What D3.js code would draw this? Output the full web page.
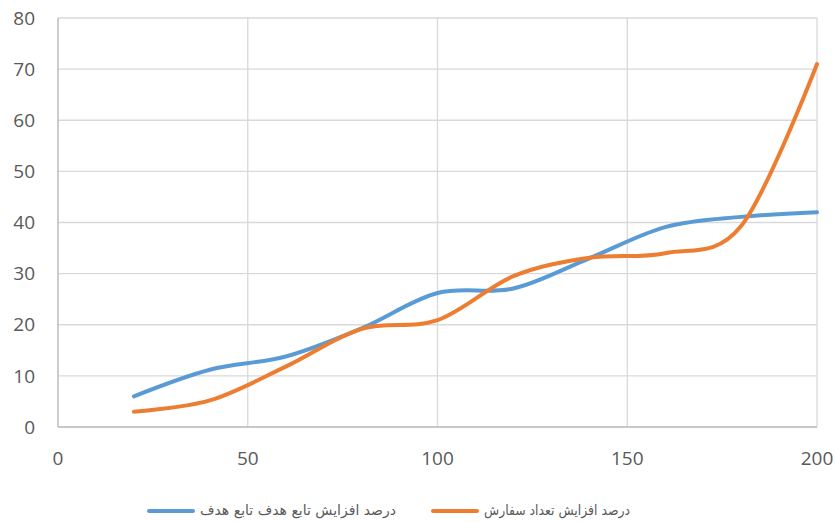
<!DOCTYPE html>
<html>
<head>
<meta charset="utf-8">
<script src="https://cdn.jsdelivr.net/npm/d3@7"></script>
<style>
  html, body { margin: 0; padding: 0; background: #fff; }
  svg { display: block; }
</style>
</head>
<body>
<svg id="chart" width="835" height="522"></svg>
<script>
// Order size steps (x) and the two percentage-increase series
const xValues = [20, 40, 60, 80, 100, 120, 140, 160, 180, 200];
const objectiveIncrease = [6, 11.2, 13.8, 19.3, 26.2, 27.1, 33, 39.1, 41.1, 42];
const orderCountIncrease = [3, 5.2, 11.8, 19.2, 20.9, 29.5, 33.1, 34, 39.3, 71];
const xTicks = [0, 50, 100, 150, 200];
const yTicks = [0, 10, 20, 30, 40, 50, 60, 70, 80];
const seriesNames = ["درصد افزایش تابع هدف تابع هدف", "درصد افزایش تعداد سفارش"];

const svg = d3.select("#chart");
const m = { left: 58, right: 18, top: 18, bottom: 95 };
const W = 835, H = 522;

const x = d3.scaleLinear().domain([0, 200]).range([m.left, W - m.right]);
const y = d3.scaleLinear().domain([0, 80]).range([H - m.bottom, m.top]);

const grid = "#d9d9d9";
const textColor = "#595959";

// Horizontal gridlines
svg.append("g")
  .selectAll("line").data(yTicks).join("line")
  .attr("x1", x(0)).attr("x2", x(200))
  .attr("y1", d => y(d)).attr("y2", d => y(d))
  .attr("stroke", grid).attr("stroke-width", 1.3);

// Vertical gridlines
svg.append("g")
  .selectAll("line").data(xTicks).join("line")
  .attr("x1", d => x(d)).attr("x2", d => x(d))
  .attr("y1", y(0)).attr("y2", y(80))
  .attr("stroke", grid).attr("stroke-width", 1.3);

// Axis lines
svg.append("line").attr("x1", x(0)).attr("x2", x(0)).attr("y1", y(0)).attr("y2", y(80))
  .attr("stroke", "#bfbfbf").attr("stroke-width", 1.3);
svg.append("line").attr("x1", x(0)).attr("x2", x(200)).attr("y1", y(0)).attr("y2", y(0))
  .attr("stroke", "#bfbfbf").attr("stroke-width", 1.3);

// Y tick labels
svg.append("g")
  .selectAll("text").data(yTicks).join("text")
  .attr("x", 35).attr("y", d => y(d)).attr("dy", "0.35em")
  .attr("text-anchor", "end")
  .attr("font-family", "'Open Sans', sans-serif").attr("font-size", 19)
  .attr("fill", textColor)
  .text(d => d);

// X tick labels
svg.append("g")
  .selectAll("text").data(xTicks).join("text")
  .attr("x", d => x(d)).attr("y", y(0) + 31).attr("dy", "0.35em")
  .attr("text-anchor", "middle")
  .attr("font-family", "'Open Sans', sans-serif").attr("font-size", 19)
  .attr("fill", textColor)
  .text(d => d);

// Smoothed lines (uniform Catmull-Rom)
const line = d3.line()
  .x((d, i) => x(xValues[i]))
  .y(d => y(d))
  .curve(d3.curveCardinal.tension(0));

const series = [
  { values: objectiveIncrease, color: "#5b9bd5" },
  { values: orderCountIncrease, color: "#ed7d31" }
];

svg.append("g")
  .selectAll("path").data(series).join("path")
  .attr("d", d => line(d.values))
  .attr("fill", "none")
  .attr("stroke", d => d.color)
  .attr("stroke-width", 4)
  .attr("stroke-linecap", "round");

// Legend: swatch on the left, right-to-left label beside it
const legendY = 511;
const legendItems = [
  { name: seriesNames[0], color: "#5b9bd5", lx: 149, tx: 396, w: 196 },
  { name: seriesNames[1], color: "#ed7d31", lx: 433, tx: 630, w: 146 }
];
const lg = svg.append("g");
legendItems.forEach(it => {
  lg.append("line")
    .attr("x1", it.lx).attr("x2", it.lx + 44)
    .attr("y1", legendY).attr("y2", legendY)
    .attr("stroke", it.color).attr("stroke-width", 4).attr("stroke-linecap", "round");
  lg.append("text")
    .attr("x", it.tx).attr("y", legendY).attr("dy", "0.3em")
    .attr("text-anchor", "start")
    .attr("direction", "rtl")
    .attr("font-family", "'DejaVu Sans', sans-serif").attr("font-size", 14)
    .attr("textLength", it.w)
    .attr("lengthAdjust", "spacingAndGlyphs")
    .attr("fill", textColor)
    .text(it.name);
});
</script>
</body>
</html>
